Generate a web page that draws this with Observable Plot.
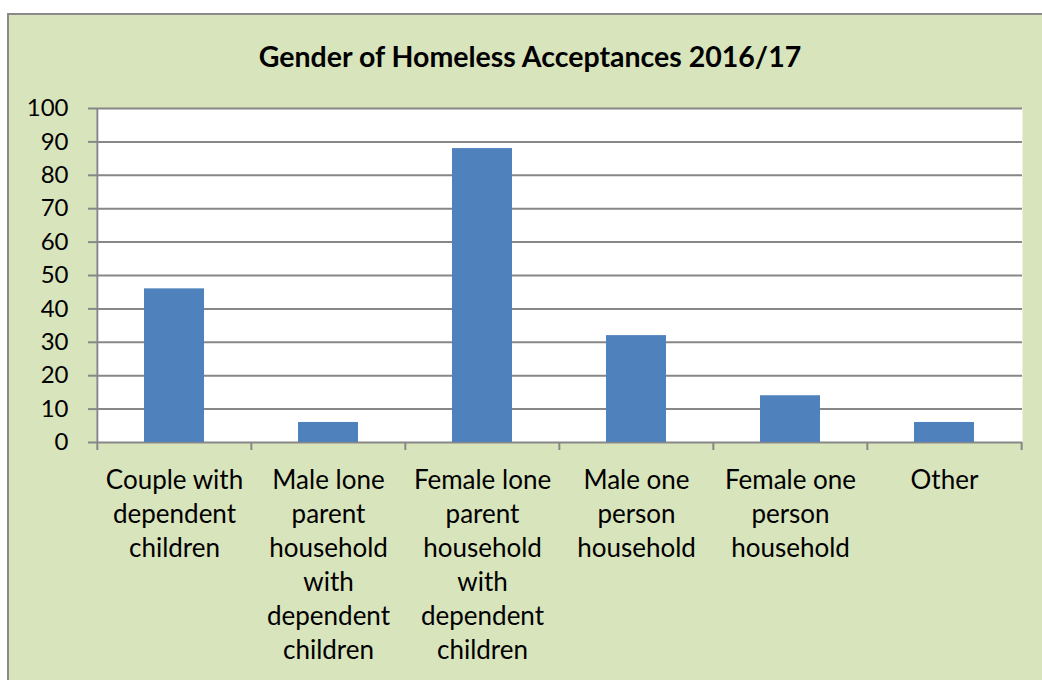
<!DOCTYPE html>
<html>
<head>
<meta charset="utf-8">
<script src="https://cdn.jsdelivr.net/npm/d3@7"></script>
<script src="https://cdn.jsdelivr.net/npm/@observablehq/plot@0.6"></script>
<style>
  html, body { margin: 0; padding: 0; background: #ffffff; }
  #wrap { position: relative; width: 1042px; height: 680px; overflow: hidden; font-family: Lato, "Open Sans", sans-serif; }
  #box { position: absolute; left: 7px; top: 13px; width: 1100px; height: 800px; background: #d8e4bc; border: 2.5px solid #8a8a8a; box-sizing: border-box; }
  #title { position: absolute; left: 0; width: 1060px; top: 39px; text-align: center; font-weight: bold; font-size: 28.5px; line-height: 34px; color: #000; }
  #chart { position: absolute; left: 0; top: 90px; }
</style>
</head>
<body>
<div id="wrap">
  <div id="box"></div>
  <div id="title">Gender of Homeless Acceptances 2016/17</div>
  <div id="chart"></div>
</div>
<script>
const categories = [
  "Couple with dependent children",
  "Male lone parent household with dependent children",
  "Female lone parent household with dependent children",
  "Male one person household",
  "Female one person household",
  "Other"
];
const tickLabels = [
  "Couple with\ndependent\nchildren",
  "Male lone\nparent\nhousehold\nwith\ndependent\nchildren",
  "Female lone\nparent\nhousehold\nwith\ndependent\nchildren",
  "Male one\nperson\nhousehold",
  "Female one\nperson\nhousehold",
  "Other"
];
const values = [46, 6, 88, 32, 14, 6];
const yTicks = [0, 10, 20, 30, 40, 50, 60, 70, 80, 90, 100];

const data = categories.map((c, i) => ({category: c, value: values[i]}));
const labelOf = new Map(categories.map((c, i) => [c, tickLabels[i]]));

const W = 1042, H = 590;
const mL = 96, mR = 20, mT = 18, mB = 238;
const step = (W - mL - mR) / categories.length;
const gray = "#878787";

const chart = Plot.plot({
  width: W,
  height: H,
  marginLeft: mL,
  marginRight: mR,
  marginTop: mT,
  marginBottom: mB,
  style: {background: "transparent", fontFamily: "Lato, 'Open Sans', sans-serif", color: "#000"},
  x: {domain: categories, paddingInner: 0.61, paddingOuter: 0.305, label: null},
  y: {domain: [0, 100], label: null},
  marks: [
    Plot.frame({fill: "white", stroke: null}),
    Plot.gridY(yTicks, {stroke: gray, strokeOpacity: 1, strokeWidth: 2}),
    Plot.barY(data, {x: "category", y: "value", fill: "#4f81bd"}),
    // left axis line, extending below the baseline
    Plot.ruleX([categories[0]], {x: d => d, y1: 100, y2: 0, dx: -step / 2, insetBottom: -8, stroke: gray, strokeWidth: 2}),
    // category boundary ticks below the baseline
    Plot.ruleX(categories.slice(1), {x: d => d, y1: 0, y2: 0, dx: -step / 2, insetBottom: -8, stroke: gray, strokeWidth: 2}),
    Plot.ruleX([categories[categories.length - 1]], {x: d => d, y1: 0, y2: 0, dx: step / 2, insetBottom: -8, stroke: gray, strokeWidth: 2}),
    Plot.axisY(yTicks, {tickSize: 8, tickPadding: 20, stroke: gray, strokeWidth: 2, fontSize: 24, fill: "#000", label: null}),
    Plot.axisX({tickSize: 0, tickPadding: 22, fontSize: 26, lineHeight: 1.31, fill: "#000", tickFormat: d => labelOf.get(d), label: null})
  ]
});
document.getElementById("chart").appendChild(chart);
</script>
</body>
</html>
